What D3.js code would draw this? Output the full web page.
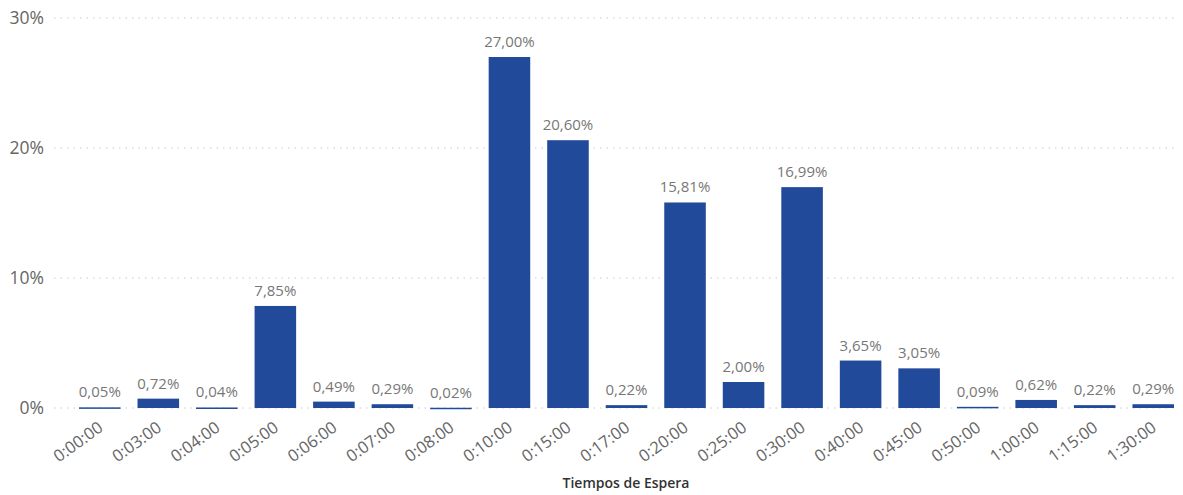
<!DOCTYPE html>
<html>
<head>
<meta charset="utf-8">
<script src="https://cdn.jsdelivr.net/npm/d3@7"></script>
<style>
  body { margin: 0; background: #fff; }
  svg { display: block; }
</style>
</head>
<body>
<svg id="chart" width="1183" height="495"></svg>
<script>
const categories = ["0:00:00", "0:03:00", "0:04:00", "0:05:00", "0:06:00", "0:07:00", "0:08:00", "0:10:00", "0:15:00", "0:17:00",
  "0:20:00", "0:25:00", "0:30:00", "0:40:00", "0:45:00", "0:50:00", "1:00:00", "1:15:00", "1:30:00"];
const values = [0.05, 0.72, 0.04, 7.85, 0.49, 0.29, 0.02, 27.00, 20.60, 0.22,
  15.81, 2.00, 16.99, 3.65, 3.05, 0.09, 0.62, 0.22, 0.29];
const yTicks = [0, 10, 20, 30];
const axisTitle = "Tiempos de Espera";

const font = "'Open Sans', 'Noto Sans', sans-serif";
const svg = d3.select("#chart");

const x = d3.scaleBand()
  .domain(categories)
  .range([79, 1174])
  .paddingInner(0.29)
  .paddingOuter(0);

const y = d3.scaleLinear().domain([0, 30]).range([408, 18]);

// gridlines
svg.append("g")
  .selectAll("line")
  .data(yTicks)
  .join("line")
  .attr("x1", 54)
  .attr("x2", 1176)
  .attr("y1", d => y(d))
  .attr("y2", d => y(d))
  .attr("stroke", "#c8c8c8")
  .attr("stroke-width", 1)
  .attr("stroke-dasharray", "1.5,5");

// y labels
svg.append("g")
  .selectAll("text")
  .data(yTicks)
  .join("text")
  .attr("x", 44)
  .attr("y", d => y(d))
  .attr("dy", "0.35em")
  .attr("text-anchor", "end")
  .style("font-family", font)
  .style("font-size", "17.5px")
  .style("fill", "#666")
  .text(d => d + "%");

// bars
svg.append("g")
  .selectAll("rect")
  .data(values)
  .join("rect")
  .attr("x", (d, i) => x(categories[i]))
  .attr("width", x.bandwidth())
  .attr("y", d => y(d))
  .attr("height", d => Math.max(1.5, y(0) - y(d)))
  .attr("fill", "#224a9b");

// data labels
const fmt = d => d.toFixed(2).replace(".", ",") + "%";
svg.append("g")
  .selectAll("text")
  .data(values)
  .join("text")
  .attr("x", (d, i) => x(categories[i]) + x.bandwidth() / 2)
  .attr("y", d => y(d) - 10)
  .attr("text-anchor", "middle")
  .style("font-family", font)
  .style("font-size", "15px")
  .style("fill", "#777")
  .text(fmt);

// x labels
svg.append("g")
  .selectAll("text")
  .data(categories)
  .join("text")
  .attr("transform", d => `translate(${x(d) + x.bandwidth() / 2 - 3},${y(0) + 12}) rotate(-36)`)
  .attr("text-anchor", "end")
  .attr("dy", "0.75em")
  .style("font-family", font)
  .style("font-size", "16.5px")
  .style("fill", "#666")
  .text(d => d);

// axis title
svg.append("text")
  .attr("x", 626)
  .attr("y", 488)
  .attr("text-anchor", "middle")
  .style("font-family", font)
  .style("font-size", "14px")
  .style("font-weight", "600")
  .style("fill", "#333")
  .text(axisTitle);
</script>
</body>
</html>
